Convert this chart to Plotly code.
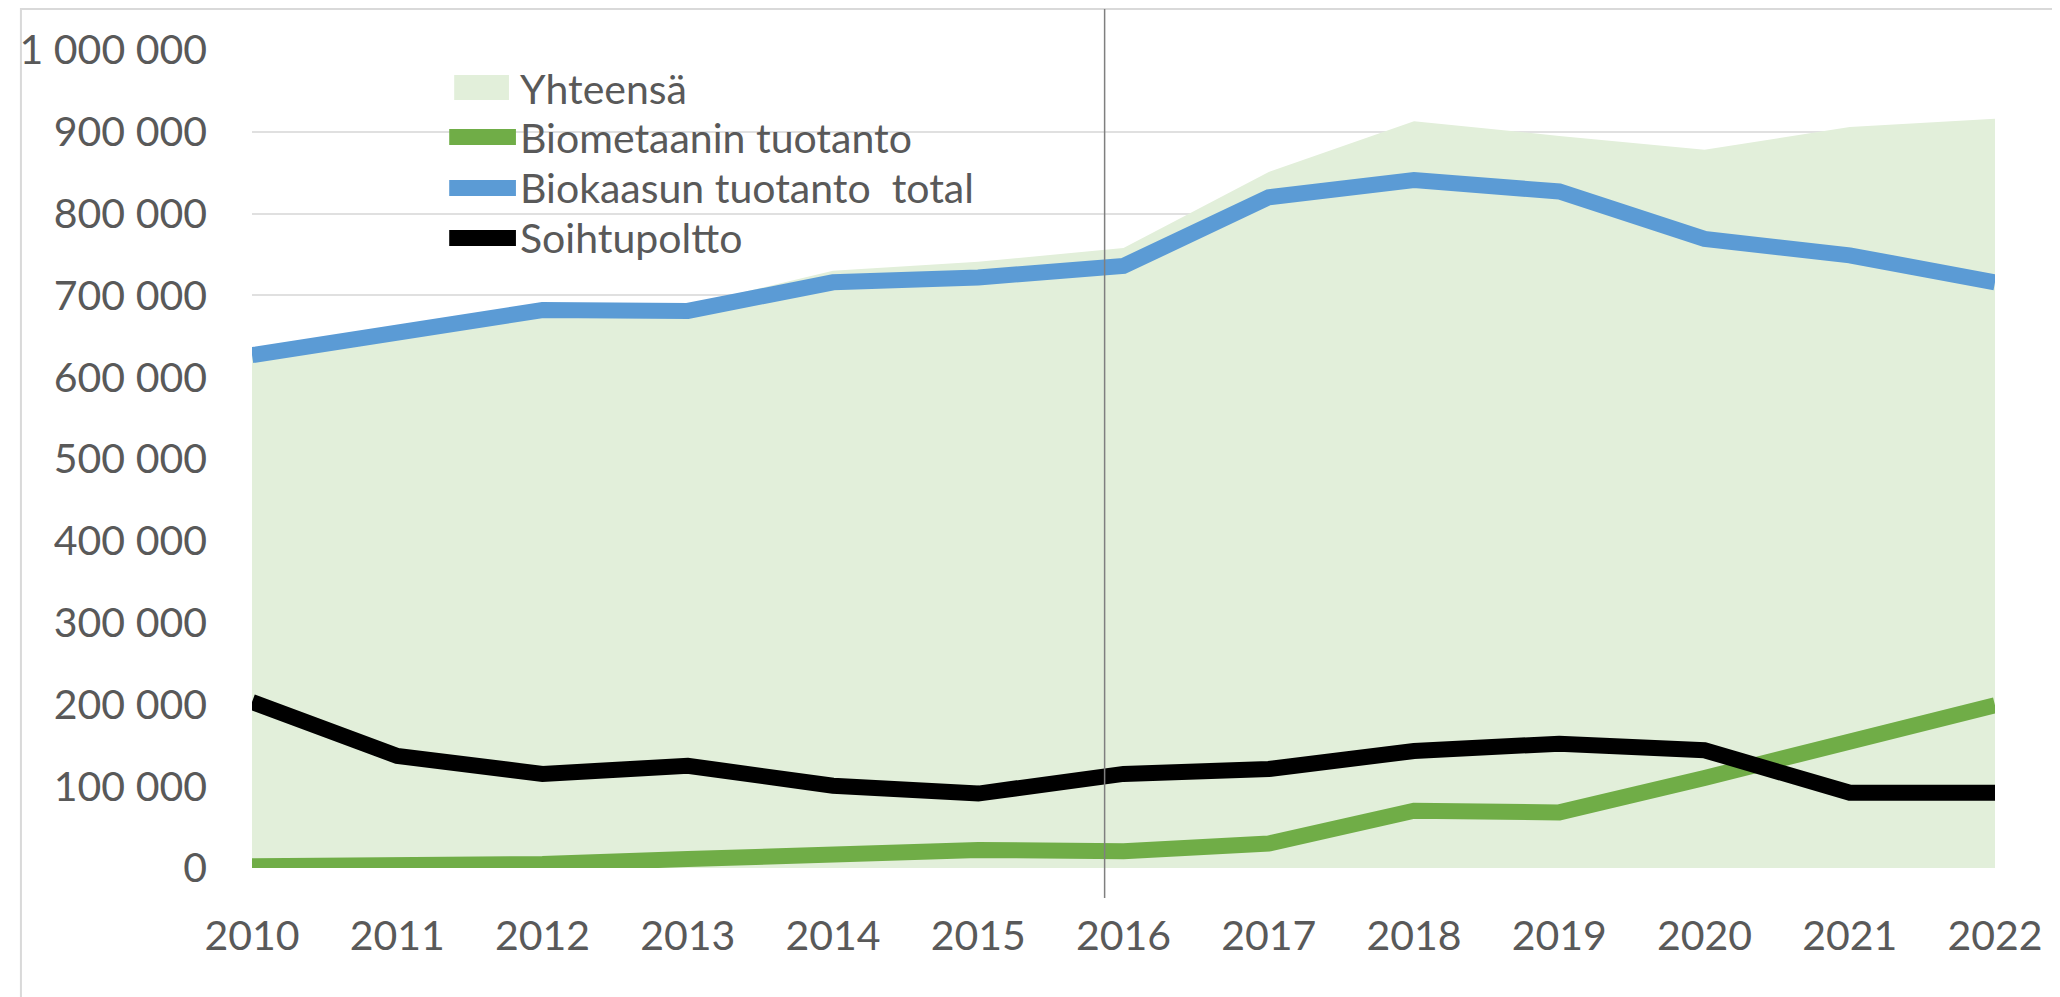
import plotly.graph_objects as go

# ---- data ----
years = [2010, 2011, 2012, 2013, 2014, 2015, 2016, 2017, 2018, 2019, 2020, 2021, 2022]
yhteensa = [632000, 660000, 688000, 688000, 730000, 741000, 758000, 851000, 913000, 895000, 878000, 906000, 916000]
biometaani = [2000, 3000, 5000, 11000, 17000, 22000, 20500, 30000, 70000, 68000, 110000, 155000, 199000]
biokaasu = [627000, 655000, 682000, 681000, 716000, 722000, 736000, 820000, 841000, 827000, 769000, 749000, 716000]
soihtu = [203000, 137000, 115000, 125000, 100500, 91000, 115000, 121000, 143000, 152000, 144000, 92000, 92000]

series_names = ["Yhteensä", "Biometaanin tuotanto", "Biokaasun tuotanto\u00a0\u00a0total", "Soihtupoltto"]
y_tickvals = [0, 100000, 200000, 300000, 400000, 500000, 600000, 700000, 800000, 900000, 1000000]
y_ticktext = ["0", "100 000", "200 000", "300 000", "400 000", "500 000", "600 000",
              "700 000", "800 000", "900 000", "1 000 000"]
x_ticktext = [str(y) for y in years]
vline_x = 2015.87

# ---- styling ----
OFF = 8  # default page body margin
W, H = 2060 - OFF, 997 - OFF
# desired page positions of plot area: left 245, right 1995, top 50, bottom 868
L = 245 - OFF
T = 50 - OFF
R = W - (1995 - OFF)
B = H - (868 - OFF)
PW = W - L - R
PH = H - T - B
FONT = "Lato, 'Liberation Sans', sans-serif"
TXT = "#595959"
FS = 41

C_AREA = "#e2efda"
C_GREEN = "#70ad47"
C_BLUE = "#5b9bd5"
C_BLACK = "#000000"
LW = 16


def px(xp):
    # page x pixel -> paper coordinate
    return (xp - OFF - L) / PW


def py(yp):
    # page y pixel -> paper coordinate
    return (H - B - (yp - OFF)) / PH


fig = go.Figure()
fig.add_trace(go.Scatter(x=years, y=yhteensa, name=series_names[0], mode="lines",
                         line=dict(width=0, color=C_AREA), fill="tozeroy",
                         fillcolor=C_AREA, showlegend=False, hoverinfo="skip"))
fig.add_trace(go.Scatter(x=years, y=biometaani, name=series_names[1], mode="lines",
                         line=dict(width=LW, color=C_GREEN), showlegend=False))
fig.add_trace(go.Scatter(x=years, y=biokaasu, name=series_names[2], mode="lines",
                         line=dict(width=LW, color=C_BLUE), showlegend=False))
fig.add_trace(go.Scatter(x=years, y=soihtu, name=series_names[3], mode="lines",
                         line=dict(width=LW, color=C_BLACK), showlegend=False))

shapes = []
annotations = []
# outer frame
shapes.append(dict(type="rect", xref="paper", yref="paper",
                   x0=px(13), x1=px(2058), y0=py(1010), y1=py(9),
                   line=dict(color="#d9d9d9", width=2), fillcolor="rgba(0,0,0,0)", layer="below"))
# vertical marker line
shapes.append(dict(type="line", xref="x", yref="paper", x0=vline_x, x1=vline_x,
                   y0=py(898), y1=py(9), line=dict(color="#7f7f7f", width=1.5), layer="above"))

# custom legend
leg_rows = [88, 137, 188, 238]
leg_colors = [C_AREA, C_GREEN, C_BLUE, C_BLACK]
for i, (name, yc, col) in enumerate(zip(series_names, leg_rows, leg_colors)):
    if i == 0:
        shapes.append(dict(type="rect", xref="paper", yref="paper",
                           x0=px(448), x1=px(503), y0=py(100), y1=py(75),
                           line=dict(width=0), fillcolor=col))
    else:
        shapes.append(dict(type="line", xref="paper", yref="paper",
                           x0=px(443), x1=px(510), y0=py(yc), y1=py(yc),
                           line=dict(color=col, width=LW)))
    annotations.append(dict(xref="paper", yref="paper", x=px(512), y=py(yc),
                            xanchor="left", yanchor="middle", text=name, showarrow=False,
                            font=dict(family=FONT, size=FS, color=TXT)))

fig.update_layout(
    width=W, height=H,
    margin=dict(l=L, r=R, t=T, b=B, pad=0),
    paper_bgcolor="white", plot_bgcolor="white",
    showlegend=False,
    font=dict(family=FONT, size=FS, color=TXT),
    shapes=shapes, annotations=annotations,
    xaxis=dict(range=[2010, 2022], tickvals=years, ticktext=x_ticktext,
               showgrid=False, zeroline=False, showline=False, ticks="",
               ticklabelstandoff=40, tickfont=dict(family=FONT, size=FS, color=TXT)),
    yaxis=dict(range=[0, 1000000], tickvals=y_tickvals, ticktext=y_ticktext,
               showgrid=True, gridcolor="#e0e0e0", gridwidth=2,
               zeroline=False, showline=False, ticks="",
               ticklabelstandoff=44, tickfont=dict(family=FONT, size=FS, color=TXT)),
)

fig.write_html("out.html")
